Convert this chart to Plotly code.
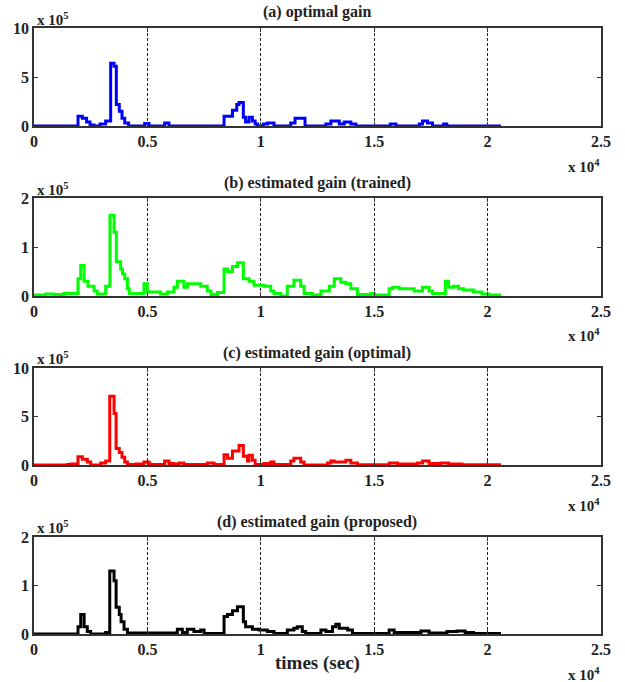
import plotly.graph_objects as go

# ---------------- data (x in seconds, y in units of 1e5) ----------------
x_end = 20590

a_x = [0, 1940, 2130, 2320, 2470, 2650, 2910, 3160, 3380, 3530, 3630, 3760, 3880, 4000, 4170,
       4880, 5070, 5760, 5950, 8380, 8750, 8940, 9040, 9230, 9330, 9480, 9630, 9750, 9850,
       10110, 10290, 10580, 11320, 11510, 11950, 12870, 13090, 13460, 13680, 13970, 14190,
       15710, 15960, 16990, 17130, 17350, 17570, 18060, 18200]
a_y = [0, 1.0, 0.8, 0.4, 0.1, 0, 0.2, 0.5, 6.4, 6.1, 2.2, 1.5, 0.8, 0.3, 0,
       0.25, 0, 0.3, 0, 1.0, 1.6, 2.2, 2.4, 0.9, 0.4, 0.9, 0.5, 0.2, 0,
       0.2, 0.3, 0, 0.3, 0.8, 0, 0.2, 0.5, 0.2, 0.4, 0.2, 0,
       0.2, 0, 0.2, 0.5, 0.3, 0, 0.2, 0]

b_x = [0, 515, 880, 1320, 1940, 2060, 2210, 2380, 2650, 2790, 3160, 3350, 3530, 3630, 3820,
       3900, 4000, 4120, 4200, 4850, 5000, 5580, 5880, 6170, 6320, 6610, 6760, 7350, 7640,
       7800, 8090, 8380, 8530, 8750, 8970, 9230, 9480, 9700, 10140, 10440, 10580, 10880,
       11170, 11460, 11760, 11910, 12280, 12650, 13020, 13240, 13530, 13750, 13970, 14260,
       14850, 15000, 15660, 15810, 16100, 16760, 17130, 17420, 17570, 18140, 18280, 18500,
       18720, 18940, 19380, 19750, 20050]
b_y = [0.02, 0.04, 0.03, 0.05, 0.35, 0.62, 0.3, 0.2, 0.1, 0.04, 0.2, 1.65, 1.3, 0.7, 0.55,
       0.45, 0.35, 0.15, 0.05, 0.25, 0.08, 0.04, 0.08, 0.18, 0.3, 0.18, 0.25, 0.2, 0.1,
       0.03, 0.07, 0.55, 0.5, 0.6, 0.68, 0.35, 0.3, 0.22, 0.2, 0.1, 0.05, 0.0,
       0.2, 0.32, 0.2, 0.05, 0.02, 0.1, 0.2, 0.35, 0.28, 0.25, 0.15, 0.03,
       0.05, 0.02, 0.15, 0.18, 0.15, 0.1, 0.18, 0.1, 0.05, 0.3, 0.18, 0.2,
       0.15, 0.12, 0.08, 0.04, 0.02]

c_x = [0, 1470, 1620, 1940, 2130, 2350, 2500, 2940, 3160, 3340, 3530, 3620, 3760, 3880, 4000,
       4120, 4500, 4850, 5070, 5140, 5760, 5950, 6170, 6390, 6610, 7640, 7940, 8380, 8530,
       8750, 9040, 9230, 9410, 9480, 9630, 9750, 10140, 10440, 10580, 11320, 11460, 11760,
       11910, 12940, 13090, 13240, 13750, 13970, 14260, 15660, 16030, 16910, 17130, 17420,
       17940, 18280, 18870]
c_y = [0, 0.05, 0.1, 0.85, 0.6, 0.3, 0, 0.2, 0.4, 7.1, 5.3, 1.7, 1.3, 0.8, 0.3,
       0.05, 0.1, 0.3, 0.1, 0.05, 0.4, 0.15, 0.1, 0.2, 0.05, 0.2, 0.05, 1.05, 0.7,
       1.45, 2.0, 0.9, 0.4, 1.0, 0.5, 0.05, 0.15, 0.3, 0.05, 0.4, 0.7, 0.3,
       0, 0.2, 0.4, 0.3, 0.5, 0.2, 0.03, 0.2, 0.1, 0.2, 0.4, 0.15,
       0.2, 0.1, 0.03]

d_x = [0, 1940, 2060, 2210, 2350, 2500, 3160, 3340, 3530, 3620, 3760, 3840, 3970, 4120, 6320,
       6540, 6760, 7050, 7350, 7500, 8380, 8530, 8750, 8970, 9230, 9330, 9630, 9920, 10290,
       10580, 11170, 11460, 11610, 11830, 11980, 12650, 12870, 13160, 13310, 13460, 13830,
       14040, 15660, 15880, 17060, 17420, 18210, 18650, 19010, 19380]
d_y = [0, 0.15, 0.4, 0.15, 0.05, 0, 0.03, 1.3, 1.1, 0.55, 0.4, 0.25, 0.1, 0.02, 0.1,
       0.03, 0.1, 0.05, 0.08, 0.01, 0.36, 0.4, 0.48, 0.56, 0.25, 0.15, 0.1, 0.08, 0.05,
       0.01, 0.08, 0.12, 0.15, 0.05, 0.01, 0.08, 0.05, 0.15, 0.2, 0.12, 0.08,
       0.01, 0.08, 0.03, 0.06, 0.02, 0.05, 0.06, 0.03, 0.01]

titles = ["(a) optimal gain", "(b) estimated gain (trained)",
          "(c) estimated gain (optimal)", "(d) estimated gain (proposed)"]
colors = ["#0000ff", "#00ff00", "#ff0000", "#000000"]
y_max = [10, 2, 10, 2]
y_ticks = [[0, 5, 10], [0, 1, 2], [0, 5, 10], [0, 1, 2]]
x_tickvals = [0, 5000, 10000, 15000, 20000, 25000]
x_ticktext = ["0", "0.5", "1", "1.5", "2", "2.5"]
series = [(a_x, a_y), (b_x, b_y), (c_x, c_y), (d_x, d_y)]

# ---------------- layout geometry (pixels) ----------------
W, H = 625, 682
left_px, right_px = 34, 601
panels_px = [(28, 126), (198, 296), (368, 465), (537, 634)]
title_px = [12, 183, 353, 522]
exp_y_px = [19, 189, 358, 527]
x4_y_px = [166, 335, 505, 674]

FONT = "Liberation Serif, Times New Roman, serif"

fig = go.Figure()
for i, ((xs, ys), col) in enumerate(zip(series, colors)):
    n = i + 1
    fig.add_trace(go.Scatter(
        x=list(xs) + [x_end], y=list(ys) + [ys[-1]],
        mode="lines", line=dict(color=col, width=3, shape="hv"),
        xaxis=f"x{n}" if n > 1 else "x", yaxis=f"y{n}" if n > 1 else "y",
        showlegend=False, hoverinfo="skip"))

layout = dict(width=W, height=H, margin=dict(l=0, r=0, t=0, b=0, pad=0),
              paper_bgcolor="white", plot_bgcolor="white", showlegend=False)

tfont = dict(family=FONT, size=16, color="#222", weight="bold")
annotations = []
for i in range(4):
    n = i + 1
    top, bot = panels_px[i]
    xk = "xaxis" if n == 1 else f"xaxis{n}"
    yk = "yaxis" if n == 1 else f"yaxis{n}"
    layout[xk] = dict(
        domain=[left_px / W, right_px / W], range=[0, 25000],
        anchor="y" if n == 1 else f"y{n}", automargin=False,
        tickvals=x_tickvals, ticktext=x_ticktext,
        ticks="inside", ticklen=4, tickcolor="#333", mirror="ticks",
        showline=True, linecolor="#333", linewidth=1.5,
        showgrid=True, gridcolor="#222", gridwidth=1, griddash="3px,2px",
        zeroline=False, tickfont=tfont, fixedrange=True)
    layout[yk] = dict(
        domain=[1 - bot / H, 1 - top / H], range=[0, y_max[i]],
        anchor="x" if n == 1 else f"x{n}", automargin=False,
        tickvals=y_ticks[i], ticktext=[str(v) for v in y_ticks[i]],
        ticks="inside", ticklen=4, tickcolor="#333", mirror="ticks",
        showline=True, linecolor="#333", linewidth=1.5,
        showgrid=False, zeroline=False, tickfont=tfont, fixedrange=True)
    annotations.append(dict(text=f"<b>{titles[i]}</b>", x=317 / W, y=1 - title_px[i] / H,
                            xref="paper", yref="paper", showarrow=False,
                            xanchor="center", yanchor="middle",
                            font=dict(family=FONT, size=16, color="#222")))
    annotations.append(dict(text="<b>x 10<sup>5</sup></b>", x=35 / W, y=1 - exp_y_px[i] / H,
                            xref="paper", yref="paper", showarrow=False,
                            xanchor="left", yanchor="middle",
                            font=dict(family=FONT, size=15, color="#222")))
    annotations.append(dict(text="<b>x 10<sup>4</sup></b>", x=602 / W, y=1 - x4_y_px[i] / H,
                            xref="paper", yref="paper", showarrow=False,
                            xanchor="right", yanchor="middle",
                            font=dict(family=FONT, size=15, color="#222")))

annotations.append(dict(text="<b>times (sec)</b>", x=317 / W, y=1 - 663 / H,
                        xref="paper", yref="paper", showarrow=False,
                        xanchor="center", yanchor="middle",
                        font=dict(family=FONT, size=19, color="#222")))
layout["annotations"] = annotations

fig.update_layout(**layout)
fig.write_html("out.html", config={"displayModeBar": False},
               post_script="document.body.style.margin='0';document.body.style.overflow='hidden';")
